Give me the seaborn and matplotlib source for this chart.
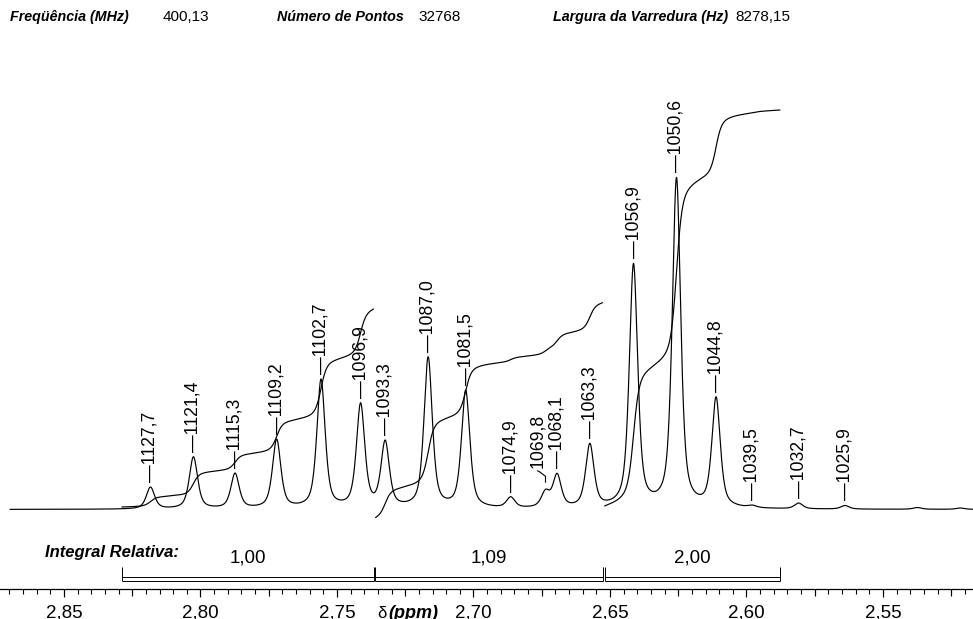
import numpy as np
import pandas as pd
import matplotlib
matplotlib.use("Agg")
import matplotlib.pyplot as plt
import seaborn as sns
from matplotlib.ticker import MultipleLocator, FuncFormatter

# ------------------------------------------------------------------ data
spectrometer_mhz = 400.13
n_points = 32768
sweep_width_hz = 8278.15

peak_hz = [1127.7, 1121.4, 1115.3, 1109.2, 1102.7, 1096.9, 1093.3, 1087.0, 1081.5,
           1074.9, 1069.8, 1068.1, 1063.3, 1056.9, 1050.6, 1044.8, 1039.5, 1032.7, 1025.9]
peak_height = [22.5, 52.8, 36.5, 70.5, 130.5, 106.8, 69.5, 152.8, 119.5,
               12.8, 20.2, 36.2, 66.2, 246.2, 332.2, 112.8, 4.5, 6.5, 4.0]
# small unlabeled baseline wiggles
noise_hz = [1015.3, 1009.0]
noise_height = [2.0, 1.5]

spectrum_ppm_range = (2.8698, 2.5170)

integral_from_ppm = [2.8288, 2.7359, 2.6520]
integral_to_ppm = [2.7366, 2.6527, 2.5877]
integral_value = [1.00, 1.09, 2.00]

# ------------------------------------------------------------------ layout / style
W, H = 973, 619
axis_px = 589          # pixel row of the ppm axis line
base_px = 509.5        # pixel row of spectrum baseline
px_per_ppm = 2730.0
x_left = 2.85 + 64 / px_per_ppm
x_right = 2.55 - (W - 883) / px_per_ppm
integral_start_level = [2.5, -8.0, 3.5]
integral_end_level = [200.5, 206.8, 399.5]
fwhm_hz = 1.45
eta = 0.6
label_shift_px = {1069.8: -8}

sns.set_style("white", rc={"xtick.bottom": True, "axes.edgecolor": "black",
                           "xtick.color": "black", "text.color": "black"})
plt.rcParams["font.family"] = ["Liberation Sans", "DejaVu Sans"]


def comma(v, nd):
    return f"{v:.{nd}f}".replace(".", ",")


def shape(d_hz):
    u = 2.0 * d_hz / fwhm_hz
    return eta / (1.0 + u ** 2) + (1.0 - eta) * np.exp(-np.log(2) * u ** 2)


# amplitudes so that the summed line reaches each read peak height
centers = np.array(peak_hz + noise_hz)
tops = np.array(peak_height + noise_height)
A = shape(centers[:, None] - centers[None, :])
amps = np.clip(np.linalg.solve(A, tops), 0, None)

ppm = np.linspace(spectrum_ppm_range[0], spectrum_ppm_range[1], 9000)
hz = ppm * spectrometer_mhz
intensity = (amps[None, :] * shape(hz[:, None] - centers[None, :])).sum(axis=1)
spec_df = pd.DataFrame({"ppm": ppm, "intensity": intensity})

# integral curves
rows = []
for k, (a, b) in enumerate(zip(integral_from_ppm, integral_to_ppm)):
    m = (ppm <= a) & (ppm >= b)
    seg_x = ppm[m]
    seg_y = intensity[m]
    cum = np.concatenate([[0], np.cumsum(0.5 * (seg_y[1:] + seg_y[:-1]))])
    cum = cum / cum[-1]
    lvl = integral_start_level[k] + (integral_end_level[k] - integral_start_level[k]) * cum
    rows.append(pd.DataFrame({"ppm": seg_x, "level": lvl, "segment": k}))
int_df = pd.concat(rows, ignore_index=True)

# ------------------------------------------------------------------ figure
fig = plt.figure(figsize=(W / 100, H / 100), dpi=100)
ax = fig.add_axes([0, (H - axis_px) / H, 1, axis_px / H])
ax.patch.set_visible(False)

sns.lineplot(data=spec_df, x="ppm", y="intensity", ax=ax, color="black",
             lw=0.85, estimator=None, sort=False)
sns.lineplot(data=int_df, x="ppm", y="level", units="segment", ax=ax,
             color="black", lw=0.85, estimator=None, sort=False)

ax.set_xlim(x_left, x_right)
ax.set_ylim(base_px - axis_px, base_px)
ax.set_xlabel("")
ax.set_ylabel("")


def lvl(px):
    return base_px - px


# integral brackets and values
for a, b, v in zip(integral_from_ppm, integral_to_ppm, integral_value):
    ax.vlines([a, b], lvl(581.3), lvl(567), color="black", lw=0.7)
    ax.hlines([lvl(577.3), lvl(581.3)], b, a, color="black", lw=0.7)
    ax.text((a + b) / 2, lvl(558), comma(v, 2), ha="center", va="center",
            fontsize=13.5)

# peak labels
for f, h in zip(peak_hz, peak_height):
    p = f / spectrometer_mhz
    lab = comma(f, 1)
    if f in label_shift_px:
        dx = label_shift_px[f]
        pts = np.array([[0, 7], [0, 13], [dx + 2, 17.5], [dx, 18.5]])
        base = ax.transData.transform((p, h))
        ax.plot(base[0] + pts[:, 0], base[1] + pts[:, 1], transform=None,
                color="black", lw=0.8)
        ax.annotate(lab, xy=(p, h), xytext=(dx, 21), textcoords="offset pixels",
                    rotation=90, ha="center", va="bottom", fontsize=12.7)
    else:
        ax.annotate("\u2014" + lab, xy=(p, h), xytext=(0, 5),
                    textcoords="offset pixels", rotation=90, ha="center",
                    va="bottom", fontsize=12.7)

# axis ticks
ax.xaxis.set_major_locator(MultipleLocator(0.05))
ax.xaxis.set_minor_locator(MultipleLocator(0.005))
ax.xaxis.set_major_formatter(FuncFormatter(lambda v, p: comma(v, 2)))
ax.tick_params(axis="x", which="major", length=5.8, width=0.8, pad=5.2,
               labelsize=13.5, direction="out", bottom=True)
ax.tick_params(axis="x", which="minor", length=3.6, width=0.8, direction="out",
               bottom=True)
ax.tick_params(axis="y", left=False, labelleft=False)
for s in ["top", "left", "right"]:
    ax.spines[s].set_visible(False)
ax.spines["bottom"].set_linewidth(0.9)

ax_m = ax.twiny()
ax_m.set_xlim(x_left, x_right)
ax_m.xaxis.set_ticks_position("bottom")
ax_m.xaxis.set_major_locator(MultipleLocator(0.025))
ax_m.tick_params(axis="x", which="major", length=4.7, width=0.8,
                 labelbottom=False, labeltop=False, bottom=True, top=False)
for s in ax_m.spines.values():
    s.set_visible(False)
ax_m.patch.set_visible(False)

# axis title
fig.text(377 / W, 1 - 618 / H, "\u03b4", fontsize=12, va="baseline", ha="left")
fig.text(388 / W, 1 - 618 / H, "(ppm)", fontsize=13, va="baseline", ha="left",
         fontweight="bold", fontstyle="italic")

fig.text(45 / W, 1 - 553 / H, "Integral Relativa:", fontsize=12, va="center",
         ha="left", fontweight="bold", fontstyle="italic")

# header
hdr_y = 1 - 17 / H
hdr = [(10, "Freq\u00fc\u00eancia (MHz)", True), (163, comma(spectrometer_mhz, 2), False),
       (277, "N\u00famero de Pontos", True), (418, str(n_points), False),
       (553, "Largura da Varredura (Hz)", True), (735, comma(sweep_width_hz, 2), False)]
for xp, t, bold in hdr:
    fig.text(xp / W, hdr_y, t, fontsize=10.3 if bold else 11, va="center", ha="left",
             fontweight="bold" if bold else "normal",
             fontstyle="italic" if bold else "normal")

fig.savefig("out.png", dpi=100)
